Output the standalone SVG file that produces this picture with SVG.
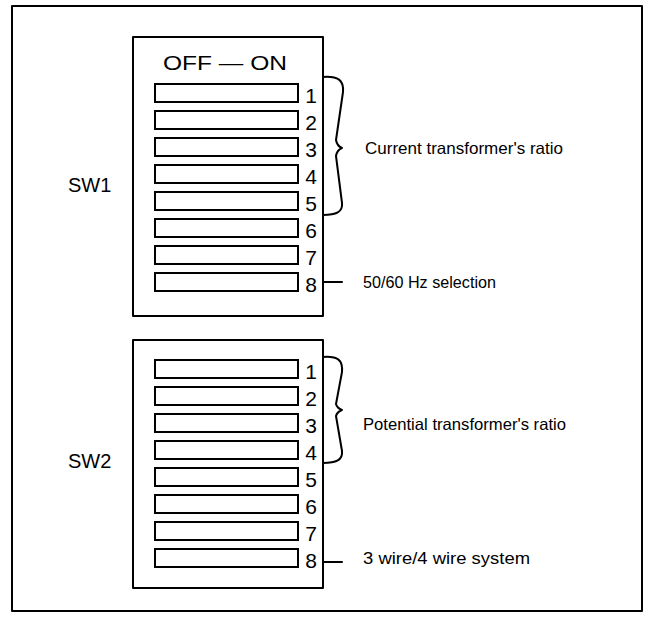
<svg xmlns="http://www.w3.org/2000/svg" width="649" height="621" viewBox="0 0 649 621">
<style>
.ln{fill:none;stroke:#000;stroke-width:2;stroke-linejoin:round;stroke-linecap:round}
.sl{fill:#fff;stroke:#000;stroke-width:2}
text{font-family:"Liberation Sans",Arial,Helvetica,sans-serif;fill:#000}
.num{font-size:21px;text-anchor:middle}
.lbl{font-size:16.5px}
.sw{font-size:20px}
</style>
<rect width="649" height="621" fill="#fff"/>
<rect id="frame" class="ln" x="12" y="6" width="630" height="605"/>
<g id="SW1">
<rect class="ln" x="133" y="37" width="190" height="279"/>
<text x="163" y="70" font-size="21" textLength="124" lengthAdjust="spacingAndGlyphs">OFF — ON</text>
<rect class="sl" x="155" y="84" width="143" height="18"/>
<rect class="sl" x="155" y="111" width="143" height="18"/>
<rect class="sl" x="155" y="138" width="143" height="18"/>
<rect class="sl" x="155" y="165" width="143" height="18"/>
<rect class="sl" x="155" y="192" width="143" height="18"/>
<rect class="sl" x="155" y="219" width="143" height="18"/>
<rect class="sl" x="155" y="246" width="143" height="18"/>
<rect class="sl" x="155" y="273" width="143" height="18"/>
<text class="num" x="311" y="103">1</text>
<text class="num" x="311" y="130">2</text>
<text class="num" x="311" y="157">3</text>
<text class="num" x="311" y="184">4</text>
<text class="num" x="311" y="211">5</text>
<text class="num" x="311" y="238">6</text>
<text class="num" x="311" y="265">7</text>
<text class="num" x="311" y="292">8</text>
<text class="sw" x="68" y="192">SW1</text>
</g>
<g id="SW2">
<rect class="ln" x="133" y="340" width="190" height="248"/>
<rect class="sl" x="155" y="360" width="143" height="18"/>
<rect class="sl" x="155" y="387" width="143" height="18"/>
<rect class="sl" x="155" y="414" width="143" height="18"/>
<rect class="sl" x="155" y="441" width="143" height="18"/>
<rect class="sl" x="155" y="468" width="143" height="18"/>
<rect class="sl" x="155" y="495" width="143" height="18"/>
<rect class="sl" x="155" y="522" width="143" height="18"/>
<rect class="sl" x="155" y="549" width="143" height="18"/>
<text class="num" x="311" y="379">1</text>
<text class="num" x="311" y="406">2</text>
<text class="num" x="311" y="433">3</text>
<text class="num" x="311" y="460">4</text>
<text class="num" x="311" y="487">5</text>
<text class="num" x="311" y="514">6</text>
<text class="num" x="311" y="541">7</text>
<text class="num" x="311" y="568">8</text>
<text class="sw" x="68" y="468">SW2</text>
</g>
<g id="connectors">
<path class="ln" d="M323,77 C338,76 344,80 343,92 L336,140 Q337,146 342,148 Q337,150 336,156 L342,203 C343,212 336,215 323,215"/>
<path class="ln" d="M323,282 L342,282"/>
<path class="ln" d="M323,357 C338,356 343,360 342,372 L336,404 Q337,408 342,410 Q337,412 336,416 L342,451 C343,460 336,463 323,463"/>
<path class="ln" d="M323,562 L342,562"/>
</g>
<g id="labels">
<text class="lbl" x="365" y="154" textLength="198" lengthAdjust="spacingAndGlyphs">Current transformer's ratio</text>
<text class="lbl" x="363" y="288" textLength="133" lengthAdjust="spacingAndGlyphs">50/60 Hz selection</text>
<text class="lbl" x="363" y="430" textLength="203" lengthAdjust="spacingAndGlyphs">Potential transformer's ratio</text>
<text class="lbl" x="363" y="564" textLength="167" lengthAdjust="spacingAndGlyphs">3 wire/4 wire system</text>
</g>
</svg>
